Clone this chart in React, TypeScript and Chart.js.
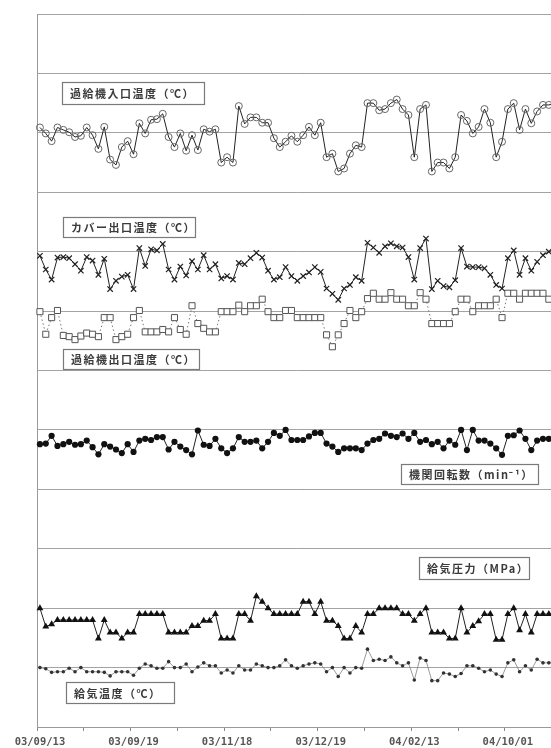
import React, { useEffect, useRef } from 'react';
import { Chart, registerables } from 'chart.js';

Chart.register(...registerables);

// ---- data (chart grid units: 0 = bottom axis, 120 = top frame, 10 per grid band) ----
const tickDates = ['03/09/13', '03/09/19', '03/11/18', '03/12/19', '04/02/13', '04/10/01'];
const sampleNo = Array.from({ length: 89 }, (_, i) => String(i + 1));

const turboInletTemp = [
  100.9, 99.9, 98.6, 100.9, 100.5, 100.1, 99.3, 99.5, 100.9, 99.6,
  97.3, 101.0, 95.5, 94.6, 97.6, 98.6, 96.4, 101.6, 99.9, 102.2,
  102.3, 103.2, 99.3, 97.6, 99.9, 97.0, 99.6, 97.1, 100.6, 100.2,
  100.6, 95.0, 95.9, 95.0, 104.5, 101.5, 102.6, 102.6, 101.7, 101.7,
  99.1, 97.6, 98.5, 99.5, 98.5, 99.6, 101.0, 99.6, 101.7, 95.9,
  96.5, 93.5, 94.0, 96.5, 97.9, 97.6, 105.0, 105.0, 103.8, 104.0,
  105.0, 105.6, 104.0, 103.0, 95.9, 104.0, 104.7, 93.5, 95.0, 95.0,
  94.0, 95.9, 103.0, 102.0, 99.9, 101.0, 104.0, 101.7, 95.9, 98.5,
  104.0, 105.0, 100.5, 104.0, 101.6, 103.6, 104.7, 104.7, 104.9,
];

const coverOutletTemp = [
  79.3, 77.0, 75.3, 79.0, 79.1, 78.9, 77.9, 76.8, 79.1, 78.5,
  76.1, 78.8, 73.7, 75.1, 75.8, 76.1, 73.7, 80.6, 77.6, 80.4,
  80.2, 81.3, 77.0, 75.3, 77.5, 76.0, 78.4, 77.0, 79.4, 77.0,
  77.9, 75.5, 75.9, 75.3, 78.1, 77.9, 78.9, 79.8, 79.0, 76.8,
  75.3, 75.7, 77.4, 75.9, 75.1, 75.9, 76.5, 77.4, 76.6, 73.8,
  72.9, 71.9, 73.8, 74.4, 75.7, 75.1, 81.5, 80.7, 79.8, 80.9,
  81.4, 80.9, 80.7, 79.1, 75.3, 80.6, 82.2, 73.7, 75.1, 74.2,
  74.0, 75.2, 80.6, 77.5, 77.4, 77.4, 77.2, 76.1, 74.4, 73.8,
  78.9, 80.2, 76.1, 78.9, 76.8, 78.3, 79.4, 80.0, 80.3,
];

const turboOutletTemp = [
  69.9, 66.1, 68.9, 70.1, 65.9, 65.7, 65.2, 65.8, 66.3, 66.1,
  65.7, 68.9, 68.9, 65.2, 65.7, 66.1, 68.9, 70.1, 66.5, 66.5,
  66.5, 66.9, 66.5, 68.9, 66.9, 66.1, 70.9, 67.9, 67.1, 66.5,
  66.5, 69.9, 69.9, 69.9, 71.0, 69.9, 70.9, 70.9, 72.0, 69.9,
  68.9, 68.9, 70.1, 70.1, 68.9, 68.9, 68.9, 68.9, 68.9, 66.0,
  64.0, 66.0, 67.9, 70.1, 68.9, 69.9, 72.1, 73.0, 72.0, 72.0,
  73.1, 72.0, 72.0, 70.9, 70.9, 73.1, 72.0, 67.9, 67.9, 67.9,
  67.9, 69.9, 72.0, 72.0, 69.9, 70.9, 70.9, 70.9, 72.0, 68.9,
  73.0, 73.0, 72.0, 73.0, 73.0, 73.0, 73.0, 72.0, 73.0,
];

const engineSpeed = [
  47.6, 47.7, 49.0, 47.3, 47.6, 48.0, 47.5, 47.6, 48.2, 47.1,
  45.9, 47.6, 47.2, 46.7, 46.1, 47.6, 46.3, 48.2, 48.5, 48.3,
  48.8, 48.8, 46.7, 48.0, 47.2, 46.6, 45.9, 49.9, 47.5, 47.3,
  48.5, 46.9, 46.1, 46.9, 48.8, 48.0, 48.0, 48.2, 46.9, 48.0,
  49.5, 49.0, 50.0, 48.3, 48.3, 48.3, 48.9, 49.5, 49.5, 47.7,
  47.2, 46.3, 46.9, 46.9, 46.9, 46.6, 47.7, 48.3, 48.5, 49.4,
  49.0, 48.8, 49.4, 48.5, 49.5, 48.0, 48.3, 47.6, 48.0, 46.9,
  48.2, 47.5, 50.0, 46.6, 50.0, 48.2, 48.2, 47.7, 46.9, 45.8,
  49.0, 49.1, 49.9, 48.5, 46.6, 48.2, 48.5, 48.5, 48.6,
];

const chargeAirPressure = [
  20.0, 16.9, 17.3, 18.0, 18.0, 18.0, 18.0, 18.0, 18.0, 18.0,
  14.9, 18.0, 15.9, 15.9, 14.9, 15.9, 15.9, 19.0, 19.0, 19.0,
  19.0, 19.0, 15.9, 15.9, 15.9, 15.9, 17.0, 17.0, 17.9, 17.9,
  19.0, 14.9, 14.9, 14.9, 19.0, 19.0, 17.9, 22.0, 21.1, 20.0,
  19.0, 19.0, 19.0, 19.0, 19.0, 21.1, 21.1, 19.0, 21.1, 17.9,
  17.9, 17.0, 14.9, 14.9, 17.0, 15.9, 19.0, 19.0, 20.0, 20.0,
  20.0, 20.0, 19.0, 19.0, 17.9, 19.0, 20.0, 15.9, 15.9, 15.9,
  14.9, 14.9, 20.0, 15.9, 17.0, 17.8, 19.0, 19.0, 14.7, 14.7,
  19.0, 20.0, 16.3, 19.0, 15.9, 19.0, 19.0, 19.0, 19.0,
];

const chargeAirTemp = [
  10.0, 9.8, 9.2, 9.3, 9.3, 9.9, 9.3, 10.0, 9.3, 9.3,
  9.3, 9.2, 8.6, 9.3, 9.3, 9.3, 8.7, 9.9, 10.6, 10.3,
  9.9, 9.9, 11.0, 10.0, 10.0, 10.6, 9.3, 10.1, 10.8, 10.3,
  10.3, 9.1, 9.6, 9.1, 10.3, 9.6, 9.6, 10.6, 10.3, 10.0,
  10.0, 10.3, 11.3, 10.3, 9.9, 10.3, 10.6, 10.8, 10.6, 9.3,
  10.0, 8.5, 10.0, 9.1, 10.0, 9.9, 13.1, 11.2, 11.4, 11.2,
  11.8, 10.8, 10.3, 10.8, 7.9, 11.6, 11.2, 7.8, 7.8, 9.1,
  8.9, 8.5, 9.0, 10.3, 10.3, 9.9, 9.3, 9.6, 8.9, 8.5,
  10.8, 11.3, 9.3, 10.3, 9.6, 11.4, 10.8, 10.8, 10.8,
];

const seriesNames = [
  '過給機入口温度（℃）',
  'カバー出口温度（℃）',
  '過給機出口温度（℃）',
  '機関回転数（min⁻¹）',
  '給気圧力（MPa）',
  '給気温度（℃）',
];

// ---- layout ----
const CANVAS_W = 600;
const CANVAS_H = 748;
const PLOT_LEFT = 37;
const PLOT_RIGHT = 557.6;
const PLOT_TOP = 14;
const X_AXIS_H = 21;

const labelBoxes = [
  { name: seriesNames[0], x: 62, y: 82, w: 142, h: 22 },
  { name: seriesNames[1], x: 63, y: 217, w: 132, h: 20 },
  { name: seriesNames[2], x: 63, y: 349, w: 136, h: 20 },
  { name: seriesNames[3], x: 401, y: 464, w: 137, h: 20 },
  { name: seriesNames[4], x: 419, y: 557, w: 110, h: 22 },
  { name: seriesNames[5], x: 66, y: 682, w: 108, h: 21 },
];

const labelBoxPlugin = {
  id: 'labelBoxes',
  afterDatasetsDraw(chart: any) {
    const ctx = chart.ctx as CanvasRenderingContext2D;
    ctx.save();
    for (const b of labelBoxes) {
      ctx.fillStyle = '#ffffff';
      ctx.fillRect(b.x, b.y, b.w, b.h);
      ctx.strokeStyle = '#7a7a7a';
      ctx.lineWidth = 1.2;
      ctx.strokeRect(b.x + 0.5, b.y + 0.5, b.w, b.h);
      ctx.font = 'bold 11px "Noto Sans CJK JP", sans-serif';
      (ctx as any).letterSpacing = '1.5px';
      ctx.fillStyle = '#3a3a3a';
      ctx.textBaseline = 'middle';
      ctx.textAlign = 'left';
      ctx.fillText(b.name, b.x + 8, b.y + b.h / 2 + 1);
    }
    ctx.restore();
  },
};

export default function App() {
  const canvasRef = useRef<HTMLCanvasElement | null>(null);

  useEffect(() => {
    const canvas = canvasRef.current;
    if (!canvas) return;
    const lineBase = { tension: 0, fill: false, spanGaps: true };
    const chart = new Chart(canvas, {
      type: 'line',
      data: {
        labels: sampleNo,
        datasets: [
          {
            ...lineBase,
            label: seriesNames[0],
            data: turboInletTemp,
            borderColor: '#222',
            borderWidth: 1,
            pointStyle: 'circle',
            pointRadius: 3.5,
            pointBorderColor: '#666',
            pointBackgroundColor: 'rgba(255,255,255,0)',
            pointBorderWidth: 1,
          },
          {
            ...lineBase,
            label: seriesNames[1],
            data: coverOutletTemp,
            borderColor: '#222',
            borderWidth: 1,
            pointStyle: 'crossRot',
            pointRadius: 3.8,
            pointBorderColor: '#222',
            pointBorderWidth: 1.2,
          },
          {
            ...lineBase,
            label: seriesNames[2],
            data: turboOutletTemp,
            borderColor: '#777',
            borderWidth: 1,
            borderDash: [1.5, 2.5],
            pointStyle: 'rect',
            pointRadius: 4.3,
            pointBorderColor: '#555',
            pointBackgroundColor: '#fff',
            pointBorderWidth: 1,
          },
          {
            ...lineBase,
            label: seriesNames[3],
            data: engineSpeed,
            borderColor: '#222',
            borderWidth: 1,
            pointStyle: 'circle',
            pointRadius: 3.1,
            pointBorderColor: '#111',
            pointBackgroundColor: '#111',
            pointBorderWidth: 0,
          },
          {
            ...lineBase,
            label: seriesNames[4],
            data: chargeAirPressure,
            borderColor: '#222',
            borderWidth: 1,
            pointStyle: 'triangle',
            pointRadius: 4,
            pointBorderColor: '#111',
            pointBackgroundColor: '#111',
            pointBorderWidth: 0,
          },
          {
            ...lineBase,
            label: seriesNames[5],
            data: chargeAirTemp,
            borderColor: '#808080',
            borderWidth: 0.8,
            pointStyle: 'circle',
            pointRadius: 1.8,
            pointBorderColor: '#333',
            pointBackgroundColor: '#333',
            pointBorderWidth: 0,
          },
        ],
      },
      options: {
        animation: false,
        responsive: false,
        devicePixelRatio: 1,
        layout: {
          padding: { left: PLOT_LEFT, top: PLOT_TOP, right: CANVAS_W - PLOT_RIGHT, bottom: 0 },
        },
        plugins: {
          legend: { display: false },
          tooltip: { enabled: false },
        },
        scales: {
          x: {
            type: 'category',
            offset: true,
            grid: {
              offset: true,
              drawOnChartArea: false,
              drawTicks: true,
              tickLength: 4,
              color: (c: any) => (c.index % 8 === 0 ? '#888' : 'rgba(0,0,0,0)'),
            },
            border: { display: true, color: '#999', width: 1 },
            ticks: {
              autoSkip: false,
              maxRotation: 0,
              minRotation: 0,
              padding: 5,
              color: '#555',
              font: { family: '"DejaVu Sans Mono", monospace', size: 10.5, weight: 'bold' },
              callback: (_v: any, i: number) => (i % 16 === 0 && tickDates[i / 16] ? tickDates[i / 16] : ''),
            },
            afterFit: (s: any) => {
              s.height = X_AXIS_H;
            },
          },
          y: {
            min: 0,
            max: 120,
            ticks: { display: false, stepSize: 10 },
            grid: { color: '#a3a3a3', drawTicks: false, lineWidth: 1 },
            border: { display: true, color: '#999', width: 1 },
            afterFit: (s: any) => {
              s.width = 0;
            },
          },
        },
      },
      plugins: [labelBoxPlugin],
    } as any);
    return () => chart.destroy();
  }, []);

  return (
    <div
      style={{
        position: 'fixed',
        left: 0,
        top: 0,
        width: 551,
        height: 748,
        overflow: 'hidden',
        background: '#fff',
      }}
    >
      <canvas ref={canvasRef} width={CANVAS_W} height={CANVAS_H} style={{ display: 'block' }} />
    </div>
  );
}
